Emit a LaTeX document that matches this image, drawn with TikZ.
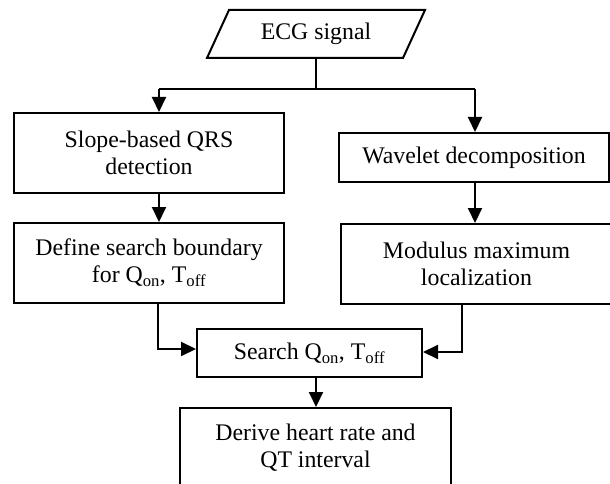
\documentclass[tikz,border=0pt]{standalone}
\usepackage{fontspec}
\setmainfont{Liberation Serif}
\usetikzlibrary{arrows.meta}
\begin{document}
\begin{tikzpicture}[x=1pt,y=-1pt,
  box/.style={draw, line width=2pt, align=center, inner sep=0pt, font=\fontsize{23.8}{27}\selectfont},
  conn/.style={line width=2pt},
  arr/.style={conn, -{Triangle[length=15pt,width=14pt]}}]
\useasboundingbox (0,0) rectangle (610,484);
% input parallelogram
\node[box, draw=none, minimum width=194pt, minimum height=46pt] (ecg) at (316,34) {ECG signal};
\draw[conn, line join=miter] ([xshift=11pt]ecg.north west) -- ([xshift=11pt]ecg.north east) -- ([xshift=-11pt]ecg.south east) -- ([xshift=-11pt]ecg.south west) -- cycle;
% process boxes
\node[box, minimum width=270pt, minimum height=80pt] (qrs) at (149,153) {Slope-based QRS\\detection};
\node[box, minimum width=270pt, minimum height=49pt] (wav) at (474,157.5) {Wavelet decomposition};
\node[box, minimum width=270pt, minimum height=80pt] (bound) at (149,263) {Define search boundary\\for Q\textsubscript{on}, T\textsubscript{off}};
\node[box, minimum width=271pt, minimum height=80pt] (mod) at (476.5,264) {Modulus maximum\\localization};
\node[box, minimum width=225pt, minimum height=48pt] (search) at (309.5,353) {Search Q\textsubscript{on}, T\textsubscript{off}};
\node[box, minimum width=271pt, minimum height=79pt] (derive) at (315.5,447.5) {Derive heart rate and\\QT interval};
% connectors
\coordinate (split) at (316,89);
\coordinate (L) at (159,89);
\coordinate (R) at (475,89);
\draw[conn] (ecg.south) -- (split);
\draw[conn] (L) -- (R);
\draw[arr] (L) -- (L |- qrs.north);
\draw[arr] (R) -- (R |- wav.north);
\draw[arr] (qrs.south -| L) -- (bound.north -| L);
\draw[arr] (wav.south -| R) -- (mod.north -| R);
\coordinate (lj) at (158,349);
\coordinate (rj) at (462,352);
\draw[arr] (bound.south -| lj) |- (search.west |- lj);
\draw[arr] (mod.south -| rj) |- (search.east |- rj);
\draw[arr] (search.south -| ecg.south) -- (derive.north -| ecg.south);
\end{tikzpicture}
\end{document}
